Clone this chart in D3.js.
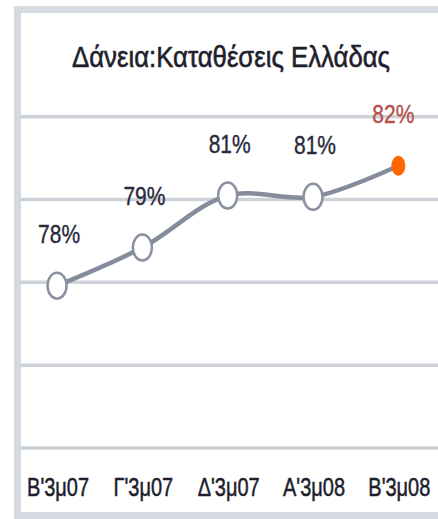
<!DOCTYPE html>
<html>
<head>
<meta charset="utf-8">
<script src="https://cdn.jsdelivr.net/npm/d3@7"></script>
<style>
  html, body { margin: 0; padding: 0; background: #fff; }
  svg text { font-family: "Liberation Sans Narrow", "Liberation Sans", Arial, sans-serif; }
</style>
</head>
<body>
<div id="viz"></div>
<script>
// data
var title = "Δάνεια:Καταθέσεις Ελλάδας";
var quarters = ["Β'3μ07", "Γ'3μ07", "Δ'3μ07", "Α'3μ08", "Β'3μ08"];
var ratios = [0.779, 0.7905, 0.8062, 0.8058, 0.8152];
var gridTicks = [0.73, 0.755, 0.78, 0.805, 0.83];

var width = 438
  , height = 519
  , frameColor = "#d5d9e0"
  , gridColor = "#cdd1d8"
  , lineColor = "#858c9c"
  , textColor = "#1e1e2c";

var svg = d3.select("#viz").append("svg")
    .attr("width", width)
    .attr("height", height);

svg.append("rect")
    .attr("width", width).attr("height", height)
    .attr("fill", "#fff");

// outer frame (right side runs off the picture)
svg.append("rect")
    .attr("x", 17.5).attr("y", 9.5)
    .attr("width", width + 20).attr("height", 506)
    .attr("fill", "none")
    .attr("stroke", frameColor)
    .attr("stroke-width", 7);

var x = d3.scalePoint()
    .domain(quarters)
    .range([14.4, 441])
    .padding(0.5);

var y = d3.scaleLinear()
    .domain([0.73, 0.83])
    .range([448, 116.7]);

// gridlines
svg.append("g").selectAll("line")
  .data(gridTicks)
  .enter().append("line")
    .attr("x1", 20).attr("x2", width)
    .attr("y1", d => y(d)).attr("y2", d => y(d))
    .attr("stroke", gridColor)
    .attr("stroke-width", 3.5);

// title
svg.append("text")
    .attr("x", 231).attr("y", 67)
    .attr("text-anchor", "middle")
    .attr("font-size", 29)
    .attr("fill", textColor)
    .attr("stroke", textColor)
    .attr("stroke-width", 0.6)
    .attr("textLength", 318)
    .attr("lengthAdjust", "spacingAndGlyphs")
    .text(title);

// category labels, squeezed sideways like the narrow original font
svg.append("g").selectAll("text")
  .data(quarters)
  .enter().append("text")
    .attr("transform", d => "translate(" + (x(d) + 1) + ",496) scale(0.8,1)")
    .attr("text-anchor", "middle")
    .attr("font-size", 25)
    .attr("fill", textColor)
    .attr("stroke", textColor)
    .attr("stroke-width", 0.5)
    .text(d => d);

var pts = quarters.map((q, i) => ({q: q, v: ratios[i], last: i === quarters.length - 1}));

// line
var line = d3.line()
    .x(d => x(d.q))
    .y(d => y(d.v))
    .curve(d3.curveCatmullRom);

svg.append("path")
    .datum(pts)
    .attr("d", line)
    .attr("fill", "none")
    .attr("stroke", lineColor)
    .attr("stroke-width", 4.5)
    .attr("stroke-linecap", "round");

// markers
svg.append("g").selectAll("ellipse")
  .data(pts)
  .enter().append("ellipse")
    .attr("cx", d => x(d.q))
    .attr("cy", d => y(d.v))
    .attr("rx", d => d.last ? 7 : 9.5)
    .attr("ry", d => d.last ? 10 : 13)
    .attr("fill", d => d.last ? "#ff6600" : "#fff")
    .attr("stroke", d => d.last ? "none" : "#8a91a0")
    .attr("stroke-width", 2.5);

// value labels
svg.append("g").selectAll("text")
  .data(pts)
  .enter().append("text")
    .attr("x", d => x(d.q) + (d.last ? -5 : 2))
    .attr("y", d => y(d.v) - 52)
    .attr("dy", "0.35em")
    .attr("text-anchor", "middle")
    .attr("font-size", 26)
    .attr("fill", d => d.last ? "#b5504a" : "#2a2a3c")
    .attr("stroke", d => d.last ? "#b5504a" : "#2a2a3c")
    .attr("stroke-width", 0.4)
    .attr("textLength", 42)
    .attr("lengthAdjust", "spacingAndGlyphs")
    .text(d => Math.round(d.v * 100) + "%");
</script>
</body>
</html>
